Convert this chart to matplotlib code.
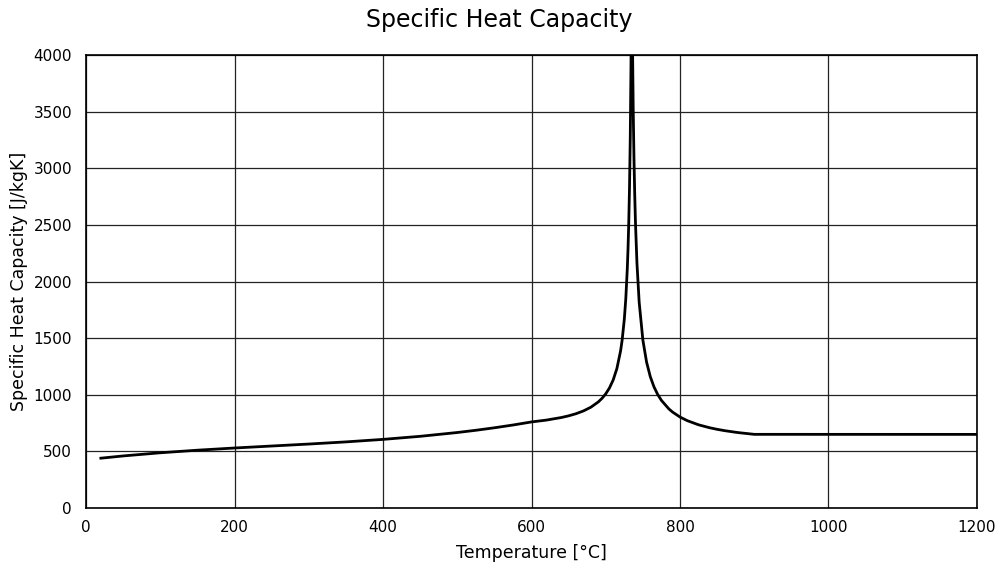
import matplotlib
matplotlib.use("Agg")
import matplotlib.pyplot as plt

plt.rcParams['font.family'] = ['DejaVu Sans']

temperature = [20, 50, 100, 150, 200, 250, 300, 350, 400, 450, 500, 525, 550, 575,
               600, 620, 640, 650, 660, 670, 680, 690, 695, 700, 705, 710, 715, 720,
               722, 725, 727, 729, 730, 731, 732, 733, 734, 735,
               736, 737, 738, 739, 740, 742, 745, 750, 755, 760, 765, 770, 775, 785,
               790, 800, 810, 825, 840, 850, 860, 875, 880, 900, 1200]
heat_capacity = [439.8, 459.7, 487.6, 510.4, 529.8, 547.3, 564.7, 583.7, 605.9, 632.9,
                 666.5, 686.2, 708.3, 732.7,
                 760.0, 776.2, 798.7, 813.8, 832.7, 857.2, 890.2, 936.9, 968.4, 1008.2,
                 1060.0, 1130.4, 1231.3, 1388.3, 1478.6, 1666.2, 1848.0, 2110.7, 2291.3,
                 2523.4, 2833.0, 3266.4, 3916.5, 5000.0,
                 4109.0, 3515.0, 3090.7, 2772.5, 2525.0, 2165.0, 1817.9, 1482.9, 1287.5,
                 1159.5, 1069.1, 1001.9, 950.0, 875.0, 847.0, 803.3, 770.6, 734.6, 708.5,
                 694.7, 683.1, 668.75, 664.6, 650.4, 650.0]
x_ticks = [0, 200, 400, 600, 800, 1000, 1200]
y_ticks = [0, 500, 1000, 1500, 2000, 2500, 3000, 3500, 4000]

fig = plt.figure(figsize=(9.98, 5.65), dpi=100)
ax = fig.add_axes([86/998, 57/565, (977-86)/998, (508-55)/565])

ax.plot(temperature, heat_capacity, color='black', lw=2.0, zorder=3,
        solid_joinstyle='round')
ax.set_xlim(0, 1200)
ax.set_ylim(0, 4000)
ax.set_xticks(x_ticks)
ax.set_yticks(y_ticks)
ax.tick_params(axis='x', length=0, labelsize=11, pad=9)
ax.tick_params(axis='y', length=0, labelsize=11, pad=10)
ax.grid(True, color='#222222', lw=0.9)
for s in ax.spines.values():
    s.set_color('black')
    s.set_linewidth(1.2)
ax.set_xlabel('Temperature [°C]', fontsize=12.5, labelpad=6)
ax.set_ylabel('Specific Heat Capacity [J/kgK]', fontsize=12.5, labelpad=4)
fig.suptitle('Specific Heat Capacity', fontsize=17, y=0.985)

fig.savefig('out.png', dpi=100)
